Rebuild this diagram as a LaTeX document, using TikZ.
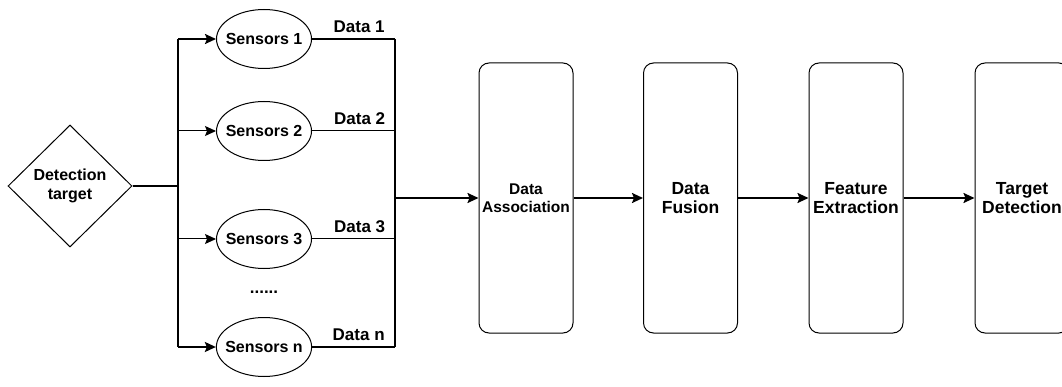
\documentclass[tikz,border=0pt]{standalone}
\usepackage{fontspec}
\setmainfont{Liberation Sans}
\usetikzlibrary{shapes.geometric,arrows.meta}
\begin{document}
\begin{tikzpicture}[x=1pt,y=-1pt,line width=1pt,
	sensor/.style={draw, ellipse, minimum width=95pt, minimum height=59pt, inner xsep=-5pt, inner ysep=0pt, font=\bfseries\fontsize{16}{18}\selectfont},
	stage/.style={draw, rounded corners=10pt, minimum width=94pt, minimum height=270pt, inner sep=0pt, align=center, font=\bfseries\fontsize{17.5}{19.5}\selectfont},
	datalbl/.style={anchor=south east, xshift=-6pt, yshift=2pt, font=\bfseries\fontsize{17}{18}\selectfont},
	arr/.style={-{Stealth[length=11pt,width=10pt,inset=2pt]}}]
	\useasboundingbox (0,0) rectangle (1062,387);
	% source and sensors
	\node[draw, diamond, minimum width=124pt, minimum height=122pt, inner sep=0pt, align=center, font=\bfseries\fontsize{16}{19}\selectfont] (target) at (70,186) {Detection\\target};
	\coordinate (split) at (178,186);
	\coordinate (merge) at (395,198);
	\node[sensor] (s1) at (264,39) {Sensors 1};
	\node[sensor] (s2) at (264,131) {Sensors 2};
	\node[sensor] (s3) at (264,239) {Sensors 3};
	\node[sensor] (sn) at (264,347) {Sensors n};
	\node[font=\bfseries\fontsize{17}{18}\selectfont] (dots) at (264,292) {......};
	% processing stages
	\node[stage, font=\bfseries\fontsize{15.5}{18}\selectfont] (assoc) at (526,198) {Data\\Association};
	\node[stage] (fusion) at (690.5,198) {Data\\Fusion};
	\node[stage] (feat) at (856,198) {Feature\\Extraction};
	\node[stage] (det) at (1022,198) {Target\\Detection};
	% left bus
	\draw[line width=2pt] (target.east) -- (split);
	\draw[line width=2pt] (split |- s1) -- (split |- sn);
	\draw[arr, line width=2pt] (split |- s1) -- (s1);
	\draw[arr] (split |- s2) -- (s2);
	\draw[arr] (split |- s3) -- (s3);
	\draw[arr, line width=2pt] (split |- sn) -- (sn);
	% right bus
	\draw[line width=2pt] (s1) -- (s1 -| merge) node[datalbl] {Data 1};
	\draw (s2) -- (s2 -| merge) node[datalbl] {Data 2};
	\draw (s3) -- (s3 -| merge) node[datalbl] {Data 3};
	\draw[line width=2pt] (sn) -- (sn -| merge) node[datalbl] {Data n};
	\draw[line width=2pt] (s1 -| merge) -- (sn -| merge);
	% pipeline
	\draw[arr, line width=2pt] (merge) -- (assoc);
	\draw[arr, line width=2pt] (assoc) -- (fusion);
	\draw[arr, line width=2pt] (fusion) -- (feat);
	\draw[arr, line width=2pt] (feat) -- (det);
\end{tikzpicture}
\end{document}
